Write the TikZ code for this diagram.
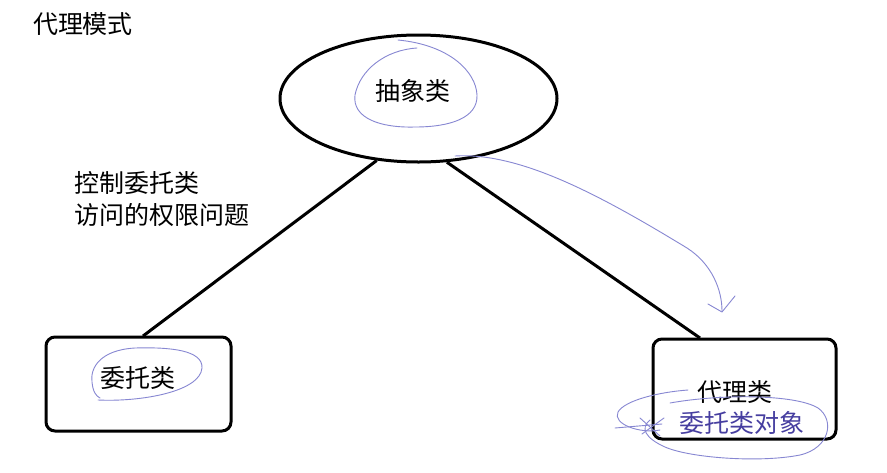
\documentclass[tikz,border=0pt]{standalone}
\usepackage{fontspec}
\newfontfamily\cjk{Noto Sans CJK SC}
\usetikzlibrary{shapes.geometric}
\definecolor{pencol}{RGB}{135,135,210}
\definecolor{inkblue}{RGB}{70,62,160}
\begin{document}
\begin{tikzpicture}[x=1pt,y=-1pt,
  txt/.style={font=\cjk\fontsize{25}{29}\selectfont, inner sep=0pt},
  heavy/.style={line width=3pt, black},
  classbox/.style={draw, line width=3pt, rounded corners=9pt},
  penline/.style={draw=pencol, line width=0.9pt, line cap=round, line join=round}]
\useasboundingbox (0,0) rectangle (887,472);
\fill[white] (0,0) rectangle (887,472);

% title
\node[txt] (title) at (83,24) {代理模式};

% abstract class ellipse
\node[ellipse, draw, line width=3pt, minimum width=277pt, minimum height=127pt, inner sep=0pt] (abs) at (418.5,98.5) {};
\node[txt] (abstxt) at (413,91) {抽象类};

% delegate class box
\node[classbox, minimum width=185pt, minimum height=94pt] (dbox) at (138.5,384) {};
\node[txt] (dtxt) at (137.5,378) {委托类};

% proxy class box
\node[classbox, minimum width=183pt, minimum height=100pt] (pbox) at (744.5,389) {};
\node[txt] (ptxt) at (735,392) {代理类};
\node[txt, text=inkblue] (pobj) at (742,423) {委托类对象};

% annotation text
\node[txt, anchor=west] (note1) at (74,183) {控制委托类};
\node[txt, anchor=west] (note2) at (74,215) {访问的权限问题};

% connectors
\coordinate (absL) at (abs.236);
\coordinate (absR) at (abs.294);
\coordinate (dtop) at (143,336);
\coordinate (ptop) at (700,338);
\draw[heavy] (absL) -- (dtop);
\draw[heavy] (absR) -- (ptop);

% hand-drawn pen marks
\draw[penline] (417,48) .. controls (385,50) and (360,70) .. (355,95)
  .. controls (352,118) and (380,128) .. (415,127)
  .. controls (450,127) and (478,118) .. (477,95)
  .. controls (476,72) and (450,45) .. (398,40);
\draw[penline] (98,400) .. controls (140,402) and (200,392) .. (202,368)
  .. controls (203,350) and (170,347) .. (135,348)
  .. controls (100,350) and (90,368) .. (92,382)
  .. controls (93,392) and (96,396) .. (100,398);
\draw[penline] (455,156) .. controls (520,152) and (600,195) .. (687,248)
  .. controls (712,264) and (722,290) .. (722,311);
\draw[penline] (708,304) -- (722,312) -- (735,296);
\draw[penline] (688,390) .. controls (660,392) and (625,400) .. (618,412)
  .. controls (612,424) and (640,434) .. (660,430);
\draw[penline] (670,403) .. controls (720,394) and (795,394) .. (818,408)
  .. controls (835,420) and (830,448) .. (800,455)
  .. controls (760,463) and (690,458) .. (665,447)
  .. controls (645,438) and (640,428) .. (650,420);
\draw[penline] (615,428) -- (662,424);
\draw[penline] (640,418) -- (660,436);
\draw[penline] (642,434) -- (664,418);
\end{tikzpicture}
\end{document}
